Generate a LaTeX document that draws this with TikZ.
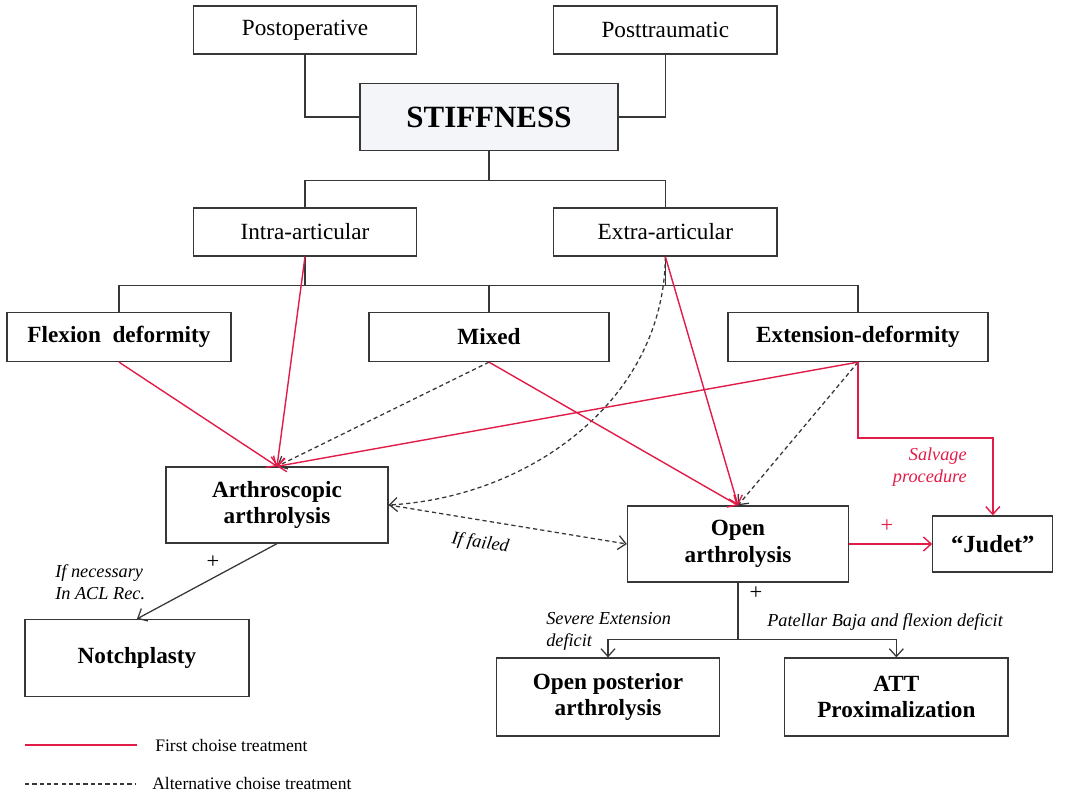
\documentclass[tikz,border=0pt]{standalone}
\usepackage{fontspec}
\setmainfont{Liberation Serif}
\usetikzlibrary{positioning,arrows.meta}
\definecolor{boxline}{RGB}{55,55,55}
\definecolor{firstred}{RGB}{226,28,72}
\definecolor{hubfill}{RGB}{243,245,248}
\tikzset{box/.style={draw=boxline, line width=0.9pt, minimum width=5.575cm, minimum height=1.2cm, inner sep=2pt, align=center, font=\fontsize{16.5}{19}\selectfont}, }
\tikzset{bold box/.style={box, font=\fontsize{16.5}{19}\selectfont\bfseries}, }
\tikzset{hub/.style={box, fill=hubfill, minimum width=6.45cm, minimum height=1.675cm, font=\fontsize{22}{26}\selectfont\bfseries}, }
\tikzset{link/.style={draw=boxline, line width=0.9pt}, }
\tikzset{first/.style={draw=firstred, line width=1pt}, }
\tikzset{alt/.style={draw=boxline, line width=0.9pt, dash pattern=on 3pt off 2.2pt, ->}, }
\tikzset{lbl/.style={inner sep=0pt, align=left, font=\fontsize{13}{15.5}\selectfont\itshape}, }
\tikzset{plus/.style={inner sep=0pt, font=\fontsize{16}{18}\selectfont}, }
\tikzset{legend/.style={inner sep=0pt, anchor=west, font=\fontsize{12.5}{15}\selectfont}, }

\begin{document}
\begin{tikzpicture}[x=0.025cm, y=-0.025cm, >={Straight Barb[length=5.5pt,width=10pt]}]
	\useasboundingbox (0,0) rectangle (1073,793);
	\node[hub] (stiff) at (489,117) {STIFFNESS};
	\node[box] (postop) at (305,30) {Postoperative};
	\node[box] (posttr) [right = 3.4cm of postop] {Posttraumatic};
	\node[box] (intra) at (305,232) {Intra-articular};
	\node[box] (extra) [right = 3.4cm of intra] {Extra-articular};
	\node[bold box, minimum width=5.6cm, minimum height=1.225cm] (flex) at (119,337) {Flexion\ \ deformity};
	\node[bold box, minimum width=6cm, minimum height=1.225cm] (mixed) at (489,337) {Mixed};
	\node[bold box, minimum width=6.5cm, minimum height=1.225cm] (ext) at (858,337) {Extension-deformity};
	\node[bold box, minimum width=5.55cm, minimum height=1.9cm] (arthro) at (277,505) {Arthroscopic\\arthrolysis};
	\node[bold box, minimum width=5.6cm, minimum height=1.925cm] (notch) at (137,658) {Notchplasty};
	\node[bold box, minimum width=5.525cm, minimum height=1.9cm] (open) at (738,544) {Open\\arthrolysis};
	\node[bold box, minimum width=3cm, minimum height=1.4cm, font=\fontsize{17.5}{20}\selectfont\bfseries] (judet) [right = 2.075cm of open] {“Judet”};
	\node[bold box, minimum width=5.575cm, minimum height=1.95cm] (openpost) at (608,697) {Open posterior\\arthrolysis};
	\node[bold box, minimum width=5.575cm, minimum height=1.95cm] (att) [right = 1.6cm of openpost] {ATT\\Proximalization};

	\draw[link] (postop.south) |- (stiff.west);
	\draw[link] (posttr.south) |- (stiff.east);
	\draw[link] (stiff.south) -- ++(0,29) coordinate (s1);
	\draw[link] (intra.north) |- (s1) -| (extra.north);
	\draw[link] (intra.south) -- ++(0,29) coordinate (s2);
	\draw[link] (extra.south) |- (s2);
	\draw[link] (flex.north) |- (s2) -| (ext.north);
	\draw[link] (mixed.north) -- (mixed.north |- s2);

	\draw[alt] (mixed.south) -- (arthro.north);
	\draw[alt] (ext.south) -- (open.north);
	\draw[alt] (extra.south) .. controls (664,400) and (530,497) .. (arthro.east);
	\draw[alt] (arthro.east) -- (open.west)
		node[lbl, pos=0.4, sloped, below=10pt] (failed) {If failed};

	\path[first]
		(flex.south) edge[->] (arthro.north)
		(intra.south) edge[->] (arthro.north)
		(ext.south) edge[->] (arthro.north)
		(mixed.south) edge[->] (open.north)
		(extra.south) edge[->] (open.north)
		(open.east) edge[->] (judet.west)
		;
	\draw[first, ->] (ext.south) -- ++(0,76) -| (judet.north);
	\node[lbl, text=firstred, align=right, anchor=east] (salvage) at (967,467) {Salvage\\procedure};
	\node[plus, text=firstred] (plusj) at (887,526) {+};

	\draw[link, ->] (arthro.south) -- (notch.north);
	\node[plus] (plusn) at (213,562) {+};
	\node[lbl, anchor=west] (acl) at (55,582) {If necessary\\In ACL Rec.};

	\draw[link] (open.south) -- ++(0,57) coordinate (s3);
	\draw[link, ->] (s3) -| (openpost.north);
	\draw[link, ->] (s3) -| (att.north);
	\node[plus] (pluso) at (756,593) {+};
	\node[lbl, anchor=west] (severe) at (546,631) {Severe Extension\\deficit};
	\node[lbl, anchor=west] (patellar) at (767,622) {Patellar Baja and flexion deficit};

	\coordinate (lg1) at (25,745);
	\coordinate (lg2) at (137,745);
	\coordinate (lg3) at (25,784);
	\coordinate (lg4) at (135,784);
	\draw[firstred, line width=1pt] (lg1) -- (lg2);
	\draw[boxline, line width=0.9pt, dash pattern=on 3pt off 2.2pt] (lg3) -- (lg4);
	\node[legend] (lgfirst) at (155,745) {First choise treatment};
	\node[legend] (lgalt) at (152,783) {Alternative choise treatment};
\end{tikzpicture}
\end{document}
